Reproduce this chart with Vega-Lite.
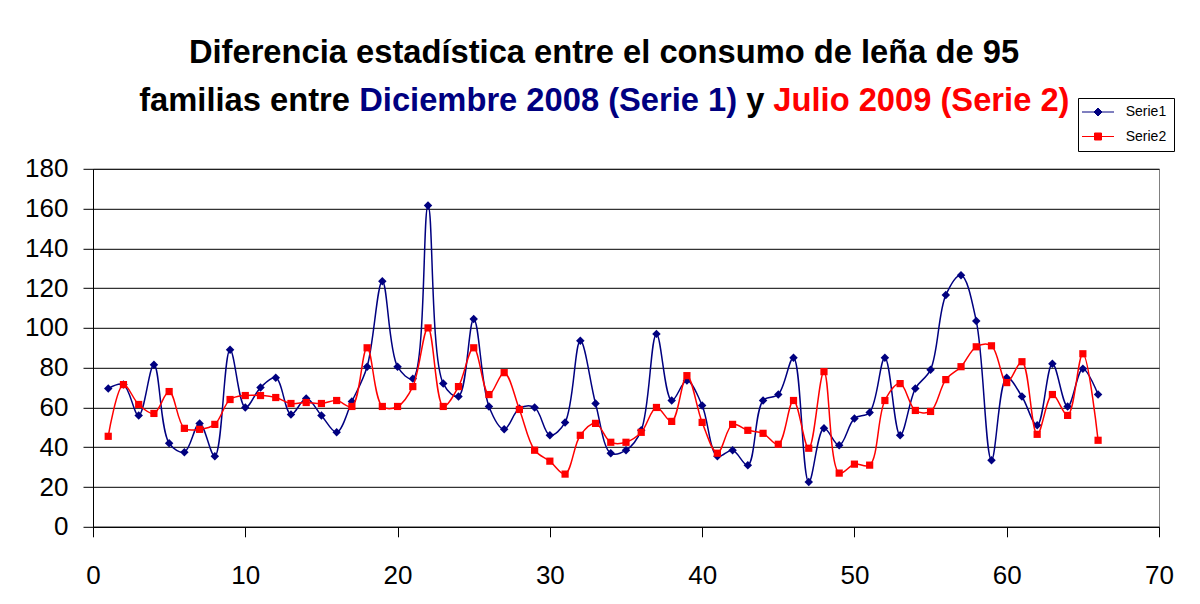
{
  "$schema": "https://vega.github.io/schema/vega-lite/v6.json",
  "background": "white",
  "padding": {"left": 24, "top": 37, "right": 0, "bottom": 0},
  "config": {"font": "Liberation Sans"},
  "bounds": "flush",
  "spacing": 52.9,
  "vconcat": [
    {
      "width": 1022, "height": 20, "view": {"stroke": null},
      "data": {"values": [{}]},
      "mark": {"type": "text", "text": "Diferencia estadística entre el consumo de leña de 95", "font": "Liberation Sans", "fontSize": 32.7, "fontWeight": "bold", "align": "center", "baseline": "middle", "color": "black"}
    },
    {
      "bounds": "flush",
      "spacing": 9.1,
      "hconcat": [
        {"width": 37, "height": 4, "view": {"stroke": null}, "data": {"values": [{}]},
         "mark": {"type": "text", "text": "", "fontSize": 32.7}},
        {"width": 211, "height": 4, "view": {"stroke": null}, "data": {"values": [{}]},
         "mark": {"type": "text", "text": "familias entre", "font": "Liberation Sans", "fontSize": 32.7, "fontWeight": "bold", "align": "center", "baseline": "bottom", "color": "black"}},
        {"width": 378, "height": 4, "view": {"stroke": null}, "data": {"values": [{}]},
         "mark": {"type": "text", "text": "Diciembre 2008 (Serie 1)", "font": "Liberation Sans", "fontSize": 32.7, "fontWeight": "bold", "align": "center", "baseline": "bottom", "color": "#000080"}},
        {"width": 18, "height": 4, "view": {"stroke": null}, "data": {"values": [{}]},
         "mark": {"type": "text", "text": "y", "font": "Liberation Sans", "fontSize": 32.7, "fontWeight": "bold", "align": "center", "baseline": "bottom", "color": "black"}},
        {"width": 296, "height": 4, "view": {"stroke": null}, "data": {"values": [{}]},
         "mark": {"type": "text", "text": "Julio 2009 (Serie 2)", "font": "Liberation Sans", "fontSize": 32.7, "fontWeight": "bold", "align": "center", "baseline": "bottom", "color": "#FF0000"}}
      ]
    },
    {
      "width": 1066, "height": 358,
      "view": {"stroke": "#808080", "strokeWidth": 1},
      "data": {"values": [
        {"n":1,"serie":"Serie1","v":69.5},{"n":2,"serie":"Serie1","v":71.5},{"n":3,"serie":"Serie1","v":56},{"n":4,"serie":"Serie1","v":81.5},{"n":5,"serie":"Serie1","v":42},{"n":6,"serie":"Serie1","v":37.5},{"n":7,"serie":"Serie1","v":52},{"n":8,"serie":"Serie1","v":35.5},{"n":9,"serie":"Serie1","v":89},{"n":10,"serie":"Serie1","v":60},
        {"n":11,"serie":"Serie1","v":70},{"n":12,"serie":"Serie1","v":75},{"n":13,"serie":"Serie1","v":56.5},{"n":14,"serie":"Serie1","v":64.5},{"n":15,"serie":"Serie1","v":56},{"n":16,"serie":"Serie1","v":47.5},{"n":17,"serie":"Serie1","v":63},{"n":18,"serie":"Serie1","v":80.5},{"n":19,"serie":"Serie1","v":123.5},{"n":20,"serie":"Serie1","v":80.5},
        {"n":21,"serie":"Serie1","v":74.5},{"n":22,"serie":"Serie1","v":161.5},{"n":23,"serie":"Serie1","v":72},{"n":24,"serie":"Serie1","v":65.5},{"n":25,"serie":"Serie1","v":104.5},{"n":26,"serie":"Serie1","v":60.5},{"n":27,"serie":"Serie1","v":49},{"n":28,"serie":"Serie1","v":59.5},{"n":29,"serie":"Serie1","v":60},{"n":30,"serie":"Serie1","v":46},
        {"n":31,"serie":"Serie1","v":52.5},{"n":32,"serie":"Serie1","v":93.5},{"n":33,"serie":"Serie1","v":62},{"n":34,"serie":"Serie1","v":37},{"n":35,"serie":"Serie1","v":38.5},{"n":36,"serie":"Serie1","v":48.5},{"n":37,"serie":"Serie1","v":97},{"n":38,"serie":"Serie1","v":63.5},{"n":39,"serie":"Serie1","v":73.5},{"n":40,"serie":"Serie1","v":61},
        {"n":41,"serie":"Serie1","v":35.5},{"n":42,"serie":"Serie1","v":38.5},{"n":43,"serie":"Serie1","v":31},{"n":44,"serie":"Serie1","v":63.5},{"n":45,"serie":"Serie1","v":66.5},{"n":46,"serie":"Serie1","v":85},{"n":47,"serie":"Serie1","v":22.5},{"n":48,"serie":"Serie1","v":49.5},{"n":49,"serie":"Serie1","v":41},{"n":50,"serie":"Serie1","v":54.5},
        {"n":51,"serie":"Serie1","v":57.5},{"n":52,"serie":"Serie1","v":85},{"n":53,"serie":"Serie1","v":46},{"n":54,"serie":"Serie1","v":69.5},{"n":55,"serie":"Serie1","v":79},{"n":56,"serie":"Serie1","v":116.5},{"n":57,"serie":"Serie1","v":126.5},{"n":58,"serie":"Serie1","v":103.5},{"n":59,"serie":"Serie1","v":33.5},{"n":60,"serie":"Serie1","v":75},
        {"n":61,"serie":"Serie1","v":65.5},{"n":62,"serie":"Serie1","v":51},{"n":63,"serie":"Serie1","v":82},{"n":64,"serie":"Serie1","v":60.5},{"n":65,"serie":"Serie1","v":79.5},{"n":66,"serie":"Serie1","v":66.5},
        {"n":1,"serie":"Serie2","v":45.5},{"n":2,"serie":"Serie2","v":71.5},{"n":3,"serie":"Serie2","v":61.5},{"n":4,"serie":"Serie2","v":57},{"n":5,"serie":"Serie2","v":68},{"n":6,"serie":"Serie2","v":49.5},{"n":7,"serie":"Serie2","v":49},{"n":8,"serie":"Serie2","v":51.5},{"n":9,"serie":"Serie2","v":64},{"n":10,"serie":"Serie2","v":66},
        {"n":11,"serie":"Serie2","v":66},{"n":12,"serie":"Serie2","v":65},{"n":13,"serie":"Serie2","v":62},{"n":14,"serie":"Serie2","v":62.5},{"n":15,"serie":"Serie2","v":62},{"n":16,"serie":"Serie2","v":63.5},{"n":17,"serie":"Serie2","v":60.5},{"n":18,"serie":"Serie2","v":90},{"n":19,"serie":"Serie2","v":60.5},{"n":20,"serie":"Serie2","v":60.5},
        {"n":21,"serie":"Serie2","v":70.5},{"n":22,"serie":"Serie2","v":100},{"n":23,"serie":"Serie2","v":60.5},{"n":24,"serie":"Serie2","v":70.5},{"n":25,"serie":"Serie2","v":90},{"n":26,"serie":"Serie2","v":66.5},{"n":27,"serie":"Serie2","v":77.5},{"n":28,"serie":"Serie2","v":59},{"n":29,"serie":"Serie2","v":38.5},{"n":30,"serie":"Serie2","v":33},
        {"n":31,"serie":"Serie2","v":26.5},{"n":32,"serie":"Serie2","v":46},{"n":33,"serie":"Serie2","v":52},{"n":34,"serie":"Serie2","v":42.5},{"n":35,"serie":"Serie2","v":42.5},{"n":36,"serie":"Serie2","v":47.5},{"n":37,"serie":"Serie2","v":60},{"n":38,"serie":"Serie2","v":53},{"n":39,"serie":"Serie2","v":76},{"n":40,"serie":"Serie2","v":52.5},
        {"n":41,"serie":"Serie2","v":37},{"n":42,"serie":"Serie2","v":51.5},{"n":43,"serie":"Serie2","v":48.5},{"n":44,"serie":"Serie2","v":47},{"n":45,"serie":"Serie2","v":41.5},{"n":46,"serie":"Serie2","v":63.5},{"n":47,"serie":"Serie2","v":39.5},{"n":48,"serie":"Serie2","v":78},{"n":49,"serie":"Serie2","v":27},{"n":50,"serie":"Serie2","v":31.5},
        {"n":51,"serie":"Serie2","v":31},{"n":52,"serie":"Serie2","v":63.5},{"n":53,"serie":"Serie2","v":72},{"n":54,"serie":"Serie2","v":58.5},{"n":55,"serie":"Serie2","v":58},{"n":56,"serie":"Serie2","v":74},{"n":57,"serie":"Serie2","v":80.5},{"n":58,"serie":"Serie2","v":90.5},{"n":59,"serie":"Serie2","v":91},{"n":60,"serie":"Serie2","v":72.5},
        {"n":61,"serie":"Serie2","v":83},{"n":62,"serie":"Serie2","v":46.5},{"n":63,"serie":"Serie2","v":66.5},{"n":64,"serie":"Serie2","v":56},{"n":65,"serie":"Serie2","v":87},{"n":66,"serie":"Serie2","v":43.5}
      ]},
      "encoding": {
        "x": {"field": "n", "type": "quantitative",
              "scale": {"domain": [0, 70], "nice": false, "zero": false},
              "axis": {"values": [0, 10, 20, 30, 40, 50, 60, 70], "title": null, "grid": false,
                       "labelFont": "Liberation Sans", "labelFontSize": 26, "labelColor": "black",
                       "tickColor": "black", "tickSize": 10, "domainColor": "black", "labelPadding": 26, "labelFlush": false}},
        "y": {"field": "v", "type": "quantitative",
              "scale": {"domain": [0, 180], "nice": false},
              "axis": {"values": [0, 20, 40, 60, 80, 100, 120, 140, 160, 180], "title": null,
                       "grid": true, "gridColor": "black", "gridOpacity": 1, "gridWidth": 1,
                       "labelFont": "Liberation Sans", "labelFontSize": 26, "labelColor": "black",
                       "tickColor": "black", "tickSize": 10, "domainColor": "black", "labelPadding": 15}},
        "color": {"field": "serie", "type": "nominal",
                  "scale": {"domain": ["Serie1", "Serie2"], "range": ["#000080", "#FF0000"]},
                  "legend": {"title": null, "orient": "none", "legendX": 985, "legendY": 55,
                             "strokeColor": "black", "fillColor": "white", "padding": 7, "rowPadding": 10.5,
                             "labelFont": "Liberation Sans", "labelFontSize": 14, "labelColor": "black",
                             "symbolSize": 100, "labelOffset": 20.7, "symbolOffset": 6,
                             "encode": {"symbols": {"update": {
                               "shape": {"signal": "datum.value === 'Serie1' ? 'M-3.2,0L3.2,0M0,-0.8L0.8,0L0,0.8L-0.8,0Z' : 'M-3.2,0L3.2,0M-0.7,-0.7L0.7,-0.7L0.7,0.7L-0.7,0.7Z'"},
                               "stroke": {"signal": "datum.value === 'Serie1' ? '#000080' : '#FF0000'"},
                               "fill": {"signal": "datum.value === 'Serie1' ? '#000080' : '#FF0000'"},
                               "strokeWidth": {"value": 1}, "opacity": {"value": 1}, "fillOpacity": {"value": 1}, "strokeOpacity": {"value": 1}}}}}}
      },
      "layer": [
        {"transform": [{"filter": "datum.serie === 'Serie1'"}],
         "mark": {"type": "line", "interpolate": "catmull-rom", "strokeWidth": 1.5}},
        {"transform": [{"filter": "datum.serie === 'Serie1'"}],
         "mark": {"type": "point", "filled": true, "opacity": 1, "shape": "diamond", "size": 72}},
        {"transform": [{"filter": "datum.serie === 'Serie2'"}],
         "mark": {"type": "line", "interpolate": "catmull-rom", "strokeWidth": 1.5}},
        {"transform": [{"filter": "datum.serie === 'Serie2'"}],
         "mark": {"type": "point", "filled": true, "opacity": 1, "shape": "square", "size": 52}}
      ]
    }
  ]
}
